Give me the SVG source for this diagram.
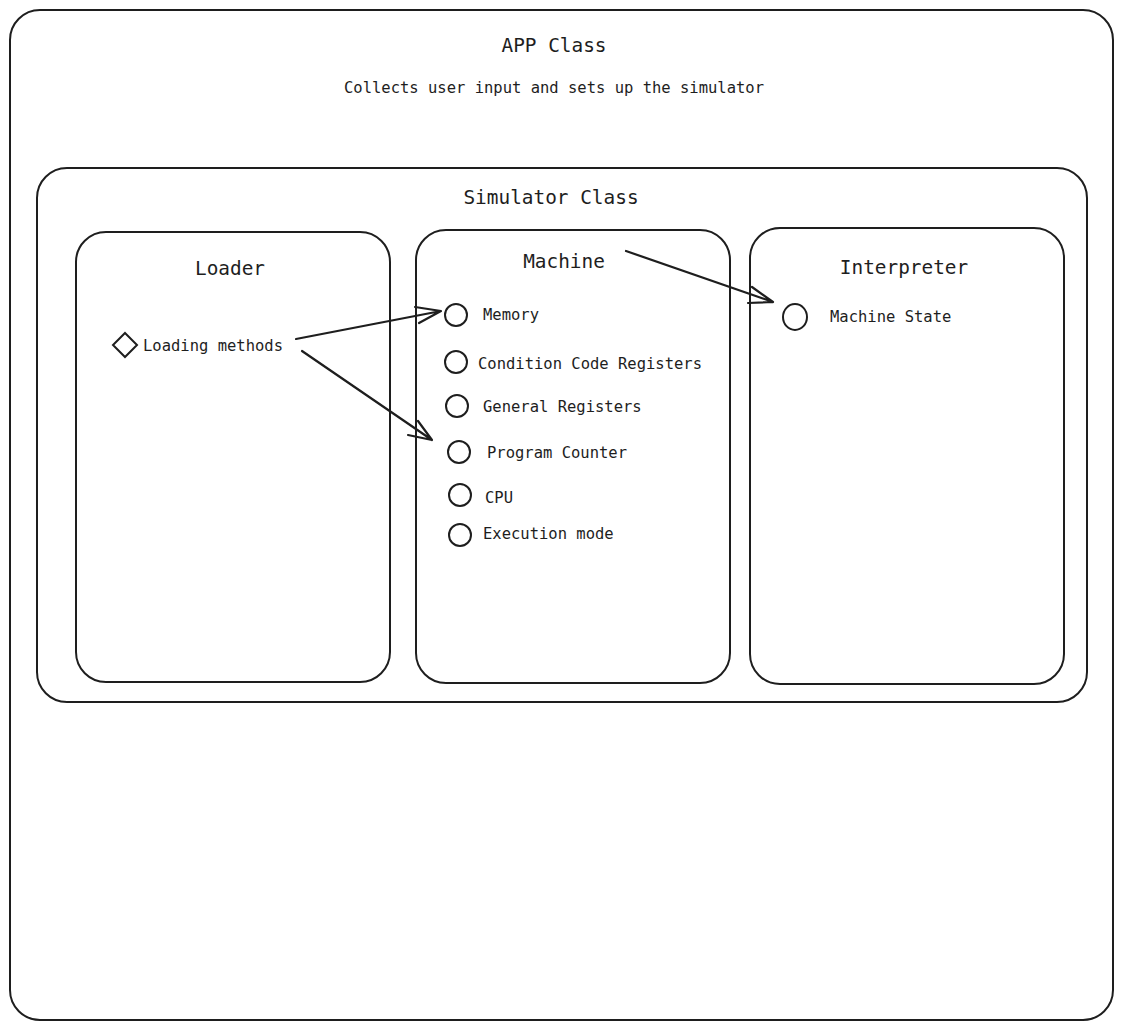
<svg xmlns="http://www.w3.org/2000/svg" width="1124" height="1030" viewBox="0 0 1124 1030">
<style>
.box{fill:none;stroke:#1e1e1e;stroke-width:2;}
.shape{fill:none;stroke:#1e1e1e;stroke-width:2;}
.conn{fill:none;stroke:#1e1e1e;stroke-width:2.2;stroke-linecap:round;stroke-linejoin:round;}
.t{font-family:"DejaVu Sans Mono","Liberation Mono",monospace;fill:#1e1e1e;}
.title{font-size:19.4px;text-anchor:middle;}
.item{font-size:15.5px;}
</style>
<rect width="1124" height="1030" fill="#ffffff"/>
<g id="app">
<rect class="box" x="10" y="10" width="1103" height="1010" rx="30"/>
<text class="t title" x="554" y="52">APP Class</text>
<text class="t item" x="554" y="93" text-anchor="middle">Collects user input and sets up the simulator</text>
</g>
<g id="simulator">
<rect class="box" x="37" y="168" width="1050" height="534" rx="30"/>
<text class="t title" x="551" y="204">Simulator Class</text>
</g>
<g id="loader">
<rect class="box" x="76" y="232" width="314" height="450" rx="30"/>
<text class="t title" x="230" y="275">Loader</text>
</g>
<g id="loading-methods">
<path class="shape" d="M125 333 L137 345 L125 357 L113 345 Z"/>
<text class="t item" x="143" y="351">Loading methods</text>
</g>
<g id="machine">
<rect class="box" x="416" y="230" width="314" height="453" rx="30"/>
<text class="t title" x="564" y="268">Machine</text>
</g>
<g id="memory">
<circle class="shape" cx="456" cy="315" r="11"/>
<text class="t item" x="483" y="320">Memory</text>
</g>
<g id="ccr">
<circle class="shape" cx="456" cy="362" r="11"/>
<text class="t item" x="478" y="369">Condition Code Registers</text>
</g>
<g id="general-registers">
<circle class="shape" cx="457" cy="406" r="11"/>
<text class="t item" x="483" y="412">General Registers</text>
</g>
<g id="program-counter">
<circle class="shape" cx="459" cy="452" r="11"/>
<text class="t item" x="487" y="458">Program Counter</text>
</g>
<g id="cpu">
<circle class="shape" cx="460" cy="495" r="11"/>
<text class="t item" x="485" y="503">CPU</text>
</g>
<g id="execution-mode">
<circle class="shape" cx="460" cy="535" r="11"/>
<text class="t item" x="483" y="539">Execution mode</text>
</g>
<g id="interpreter">
<rect class="box" x="750" y="228" width="314" height="456" rx="30"/>
<text class="t title" x="904" y="274">Interpreter</text>
</g>
<g id="machine-state">
<ellipse class="shape" cx="795" cy="317" rx="12" ry="13"/>
<text class="t item" x="830" y="322">Machine State</text>
</g>
<g id="connectors">
<path class="conn" d="M296 339 L441 311 M415 307 L441 311 L419 323"/>
<path class="conn" d="M302 351 L432 440 M418 421 L432 440 L408 435"/>
<path class="conn" d="M626 251 L773 302 M752 287 L773 302 L748 303"/>
</g>
</svg>
